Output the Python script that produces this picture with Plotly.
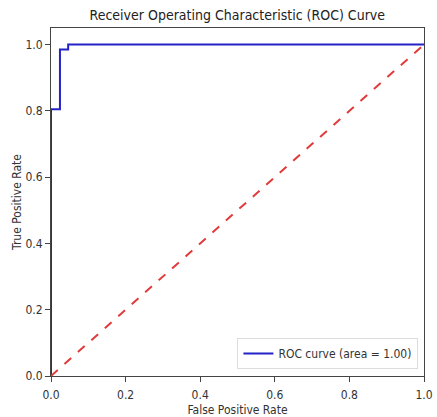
import plotly.graph_objects as go

fpr = [0.0, 0.0, 0.024, 0.024, 0.046, 0.046, 1.0]
tpr = [0.0, 0.805, 0.805, 0.985, 0.985, 1.0, 1.0]
diag_x = [0.0, 1.0]
diag_y = [0.0, 1.0]
tick_vals = [0.0, 0.2, 0.4, 0.6, 0.8, 1.0]
tick_text = ["0.0", "0.2", "0.4", "0.6", "0.8", "1.0"]

FONT = "DejaVu Sans Condensed, DejaVu Sans"

fig = go.Figure()
fig.add_trace(go.Scatter(x=fpr, y=tpr, mode="lines", name="ROC curve (area = 1.00)",
                         line=dict(color="#2323c8", width=2)))
fig.add_trace(go.Scatter(x=diag_x, y=diag_y, mode="lines", showlegend=False,
                         line=dict(color="#e03a3a", width=2, dash="dash")))

axis_common = dict(showgrid=False, zeroline=False, showline=True, linecolor="#444",
                   linewidth=1, mirror=True, ticks="outside", ticklen=5, tickcolor="#444",
                   automargin=False,
                   tickfont=dict(size=12, color="#333"), tickvals=tick_vals, ticktext=tick_text)

fig.update_layout(
    width=437, height=417,
    margin=dict(l=51, r=13, t=28, b=41, autoexpand=False),
    paper_bgcolor="white", plot_bgcolor="white",
    font=dict(family=FONT, color="#333"),
    title=dict(text="Receiver Operating Characteristic (ROC) Curve", x=0.543, xanchor="center",
               y=0.963, yanchor="middle", font=dict(size=14, color="#222")),
    xaxis=dict(range=[0, 1], title=dict(text="False Positive Rate", font=dict(size=12), standoff=5),
               ticklabelstandoff=3, **axis_common),
    yaxis=dict(range=[0, 1.05], title=dict(text="True Positive Rate", font=dict(size=12), standoff=1), **axis_common),
    legend=dict(x=0.985, y=0.02, xanchor="right", yanchor="bottom", bordercolor="#ddd", borderwidth=1,
                bgcolor="white", itemwidth=30, font=dict(size=12, color="#333")),
)
fig.write_html("out.html")
